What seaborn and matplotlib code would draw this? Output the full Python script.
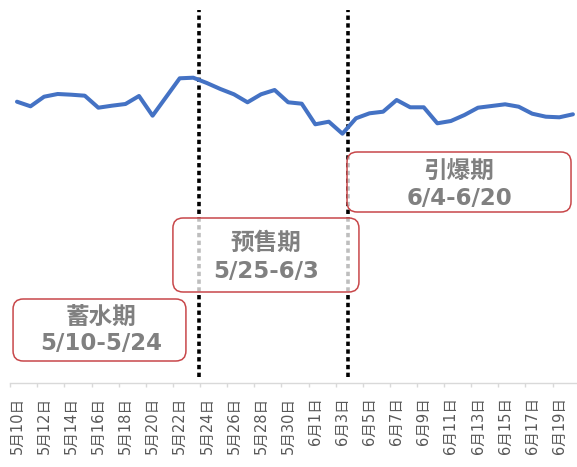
import numpy as np
import pandas as pd
import matplotlib
matplotlib.use("Agg")
import matplotlib.pyplot as plt
from matplotlib.patches import FancyBboxPatch
import seaborn as sns

# daily values (arbitrary units, no y axis shown)
days = pd.date_range("2023-05-10", "2023-06-20", freq="D")
values = [281.3, 276.7, 286.3, 289.0, 288.3, 287.3, 275.3, 277.3, 279.0, 287.0,
          267.3, 286.0, 304.7, 305.3, 300.0, 294.0, 288.7, 280.7, 288.7, 293.0,
          280.7, 279.3, 258.7, 261.3, 249.3, 264.7, 269.7, 271.3, 283.0, 275.7,
          275.7, 259.7, 262.0, 268.0, 275.3, 277.0, 278.7, 276.3, 269.3, 266.3,
          265.7, 268.7]

phase_names = ["蓄水期", "预售期", "引爆期"]
phase_ranges = ["5/10-5/24", "5/25-6/3", "6/4-6/20"]
split_pos = [13.45, 24.4]

df = pd.DataFrame({"idx": np.arange(len(days)), "value": values})
tick_labels = [f"{d.month}月{d.day}日" for d in days]

sns.set_theme(style="white")
plt.rcParams["font.family"] = ["DejaVu Sans", "Noto Sans CJK SC"]

fig = plt.figure(figsize=(5.77, 4.67), dpi=100)
ax = fig.add_axes([10.2 / 577, 84 / 467, 569.5 / 577, 375 / 467])

sns.lineplot(data=df, x="idx", y="value", color="#4472C4", linewidth=2.9, ax=ax, zorder=3)

ax.set_xlim(-0.5, 41.5)
ax.set_ylim(0, 375)
ax.set_xlabel("")
ax.set_ylabel("")
ax.set_yticks([])

for s in ["left", "top", "right"]:
    ax.spines[s].set_visible(False)
ax.spines["bottom"].set_color("#d9d9d9")
ax.spines["bottom"].set_linewidth(1)

ax.set_xticks(df["idx"][::2])
ax.set_xticklabels(tick_labels[::2], rotation=90, fontsize=10.5, color="#595959")
ax.set_xticks(np.arange(-0.5, 42, 2), minor=True)
ax.tick_params(axis="x", which="major", length=0, pad=10)
ax.tick_params(axis="x", which="minor", length=3, width=1, color="#d9d9d9", bottom=True)

# phase separators
for x in split_pos:
    ax.axvline(x, ymin=6 / 375, ymax=373 / 375, color="black", linewidth=2.6,
               linestyle=(0, (1.2, 0.95)), zorder=2)

# phase boxes: (x0, y0, w, h) and text centres
boxes = [(-0.29, 22, 12.75, 62), (11.5, 91, 13.72, 74), (24.34, 171, 16.52, 60)]
text_x = [6.18, 18.36, 32.6]
text_y = [(66, 39), (140.3, 111.3), (211.3, 184.7)]

for (x0, y0, w, h), tx, (y1, y2), name, rng in zip(boxes, text_x, text_y, phase_names, phase_ranges):
    box = FancyBboxPatch((x0, y0), w, h, boxstyle="round,pad=0,rounding_size=0.75",
                         mutation_aspect=13.56, facecolor=(1, 1, 1, 0.75),
                         edgecolor="#c8474a", linewidth=1.1, zorder=4)
    ax.add_patch(box)
    ax.text(tx, y1, name, ha="center", va="center", fontsize=17, fontweight="bold",
            family=["Noto Sans CJK SC", "DejaVu Sans"], color="#808080", zorder=5)
    ax.text(tx, y2, rng, ha="center", va="center", fontsize=16.5, fontweight="bold",
            family=["DejaVu Sans"], color="#808080", zorder=5)

fig.savefig("out.png", dpi=100)
